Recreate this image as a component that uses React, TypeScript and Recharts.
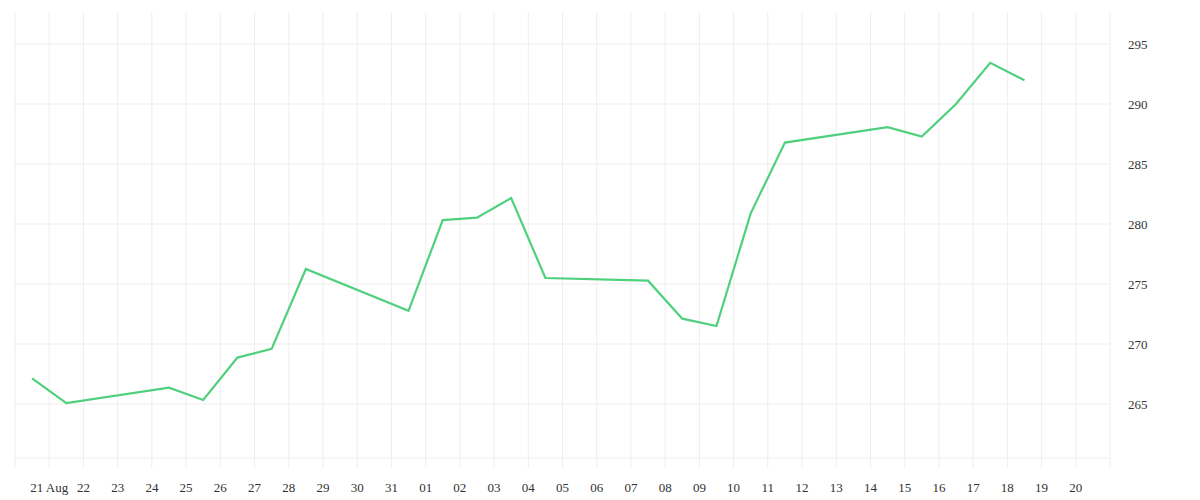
import React from 'react';
import { CartesianGrid, Line, LineChart, ReferenceLine, XAxis, YAxis } from 'recharts';

const DAY = 24 * 60 * 60 * 1000;

// trading days (values sit at midday of each date)
const dates = [
  '2020-08-20', '2020-08-21', '2020-08-24', '2020-08-25', '2020-08-26',
  '2020-08-27', '2020-08-28', '2020-08-31', '2020-09-01', '2020-09-02',
  '2020-09-03', '2020-09-04', '2020-09-07', '2020-09-08', '2020-09-09',
  '2020-09-10', '2020-09-11', '2020-09-14', '2020-09-15', '2020-09-16',
  '2020-09-17', '2020-09-18',
];

const prices = [
  267.14, 265.08, 266.36, 265.33, 268.87,
  269.59, 276.25, 272.76, 280.33, 280.53,
  282.17, 275.5, 275.28, 272.11, 271.5,
  280.89, 286.79, 288.08, 287.29, 290.0,
  293.43, 291.98,
];

// one label per day from Aug 20 to Sep 21
const tickLabels = [
  '', '21 Aug', '22', '23', '24', '25', '26', '27', '28', '29', '30', '31',
  '01', '02', '03', '04', '05', '06', '07', '08', '09', '10', '11', '12',
  '13', '14', '15', '16', '17', '18', '19', '20', '',
];

const yTicks = [265, 270, 275, 280, 285, 290, 295];

const start = Date.parse('2020-08-20T00:00:00Z');
const xTicks = tickLabels.map((_, i) => start + i * DAY);

const data = dates.map((d, i) => ({
  t: Date.parse(d + 'T12:00:00Z'),
  price: prices[i],
}));

const font = { fontFamily: 'serif', fontSize: 13, fill: '#333' };

const App = () => {
  return (
    <div style={{ position: 'fixed', left: 0, top: 0, width: 1200, height: 500, background: '#fff' }}>
      <LineChart
        width={1200}
        height={500}
        data={data}
        margin={{ top: 12, right: 30, bottom: 12, left: 15 }}
      >
        <CartesianGrid stroke="#eeeeee" horizontal={false} />
        {yTicks.map((v) => (
          <ReferenceLine key={v} y={v} stroke="#eeeeee" />
        ))}
        <XAxis
          dataKey="t"
          type="number"
          domain={[xTicks[0], xTicks[xTicks.length - 1]]}
          ticks={xTicks}
          interval={0}
          tickFormatter={(v: number) => tickLabels[Math.round((v - start) / DAY)]}
          height={30}
          axisLine={{ stroke: '#eeeeee' }}
          tickLine={{ stroke: '#eeeeee' }}
          tickSize={10}
          tickMargin={15}
          tick={font}
        />
        <YAxis
          orientation="right"
          domain={[260.5, 297.67]}
          ticks={yTicks}
          allowDataOverflow
          width={60}
          axisLine={false}
          tickLine={false}
          tickSize={0}
          tickMargin={18}
          tick={font}
        />
        <Line
          type="linear"
          dataKey="price"
          stroke="#4ed07d"
          strokeWidth={2.2}
          dot={false}
          activeDot={false}
          isAnimationActive={false}
        />
      </LineChart>
    </div>
  );
};

export default App;
